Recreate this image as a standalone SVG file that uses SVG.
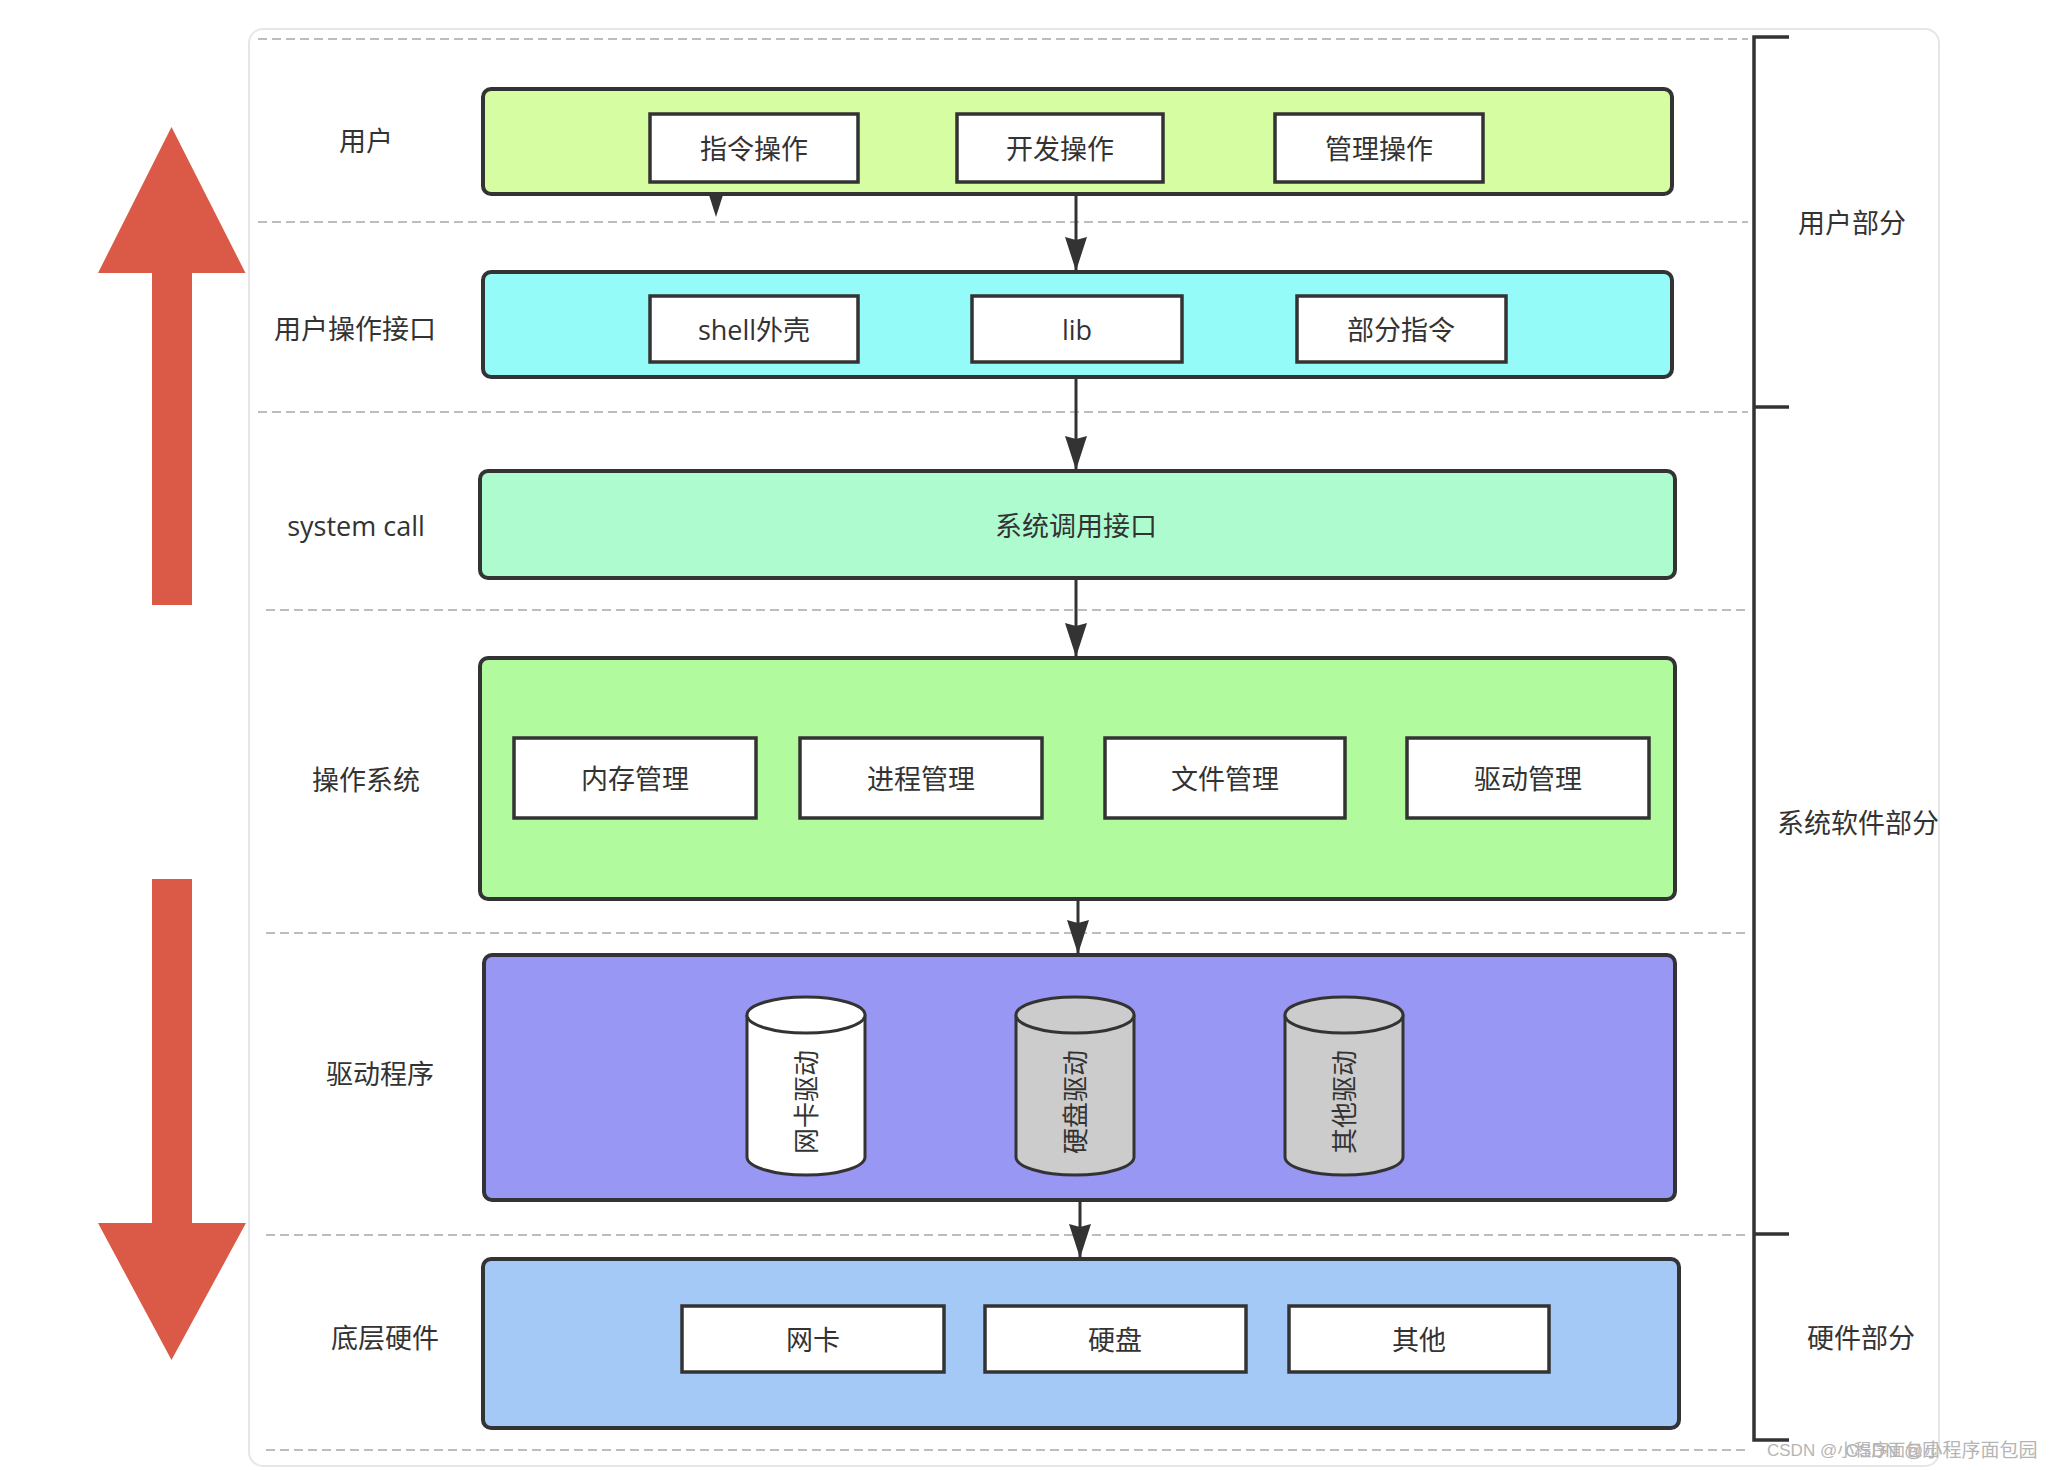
<svg xmlns="http://www.w3.org/2000/svg" width="2052" height="1470" viewBox="0 0 2052 1470">
<style>
.lbl{font-family:"Open Sans","Noto Sans CJK SC",sans-serif;font-size:27px;fill:#333;text-anchor:middle;dominant-baseline:central}
.layer{stroke:#333;stroke-width:4}
.inner{fill:#fff;stroke:#333;stroke-width:3.5}
.dash{stroke:#bdbdbd;stroke-width:2;stroke-dasharray:9 5;fill:none}
.conn{stroke:#333;stroke-width:3;fill:none}
.cyl{stroke:#333;stroke-width:3}
</style>
<defs>
<marker id="ah" viewBox="0 0 34 22" refX="34" refY="11" markerWidth="34" markerHeight="22" markerUnits="userSpaceOnUse" orient="auto"><path d="M0,0 L34,11 L0,22 L3,11 Z" fill="#333"/></marker>
</defs>
<rect width="2052" height="1470" fill="#fff"/>
<rect x="249" y="29" width="1690" height="1437" rx="14" fill="#fff" stroke="#e6e6e6" stroke-width="2"/>
<g id="dashes">
<line class="dash" x1="258" y1="39" x2="1748" y2="39"/>
<line class="dash" x1="258" y1="222" x2="1748" y2="222"/>
<line class="dash" x1="258" y1="412" x2="1748" y2="412"/>
<line class="dash" x1="266" y1="610" x2="1748" y2="610"/>
<line class="dash" x1="266" y1="933" x2="1748" y2="933"/>
<line class="dash" x1="266" y1="1235" x2="1748" y2="1235"/>
<line class="dash" x1="266" y1="1450" x2="1748" y2="1450"/>
</g>
<g id="red-arrows" fill="#da5a47">
<polygon points="171.5,127 245.5,273 192,273 192,605 152,605 152,273 98,273"/>
<polygon points="152,879 192,879 192,1223 246,1223 171.5,1360 98,1223 152,1223"/>
</g>
<g id="bracket" stroke="#333" stroke-width="3.5" fill="none">
<path d="M1789,37 H1754 V1440 H1789"/>
<line x1="1754" y1="407" x2="1789" y2="407"/>
<line x1="1754" y1="1234" x2="1789" y2="1234"/>
</g>
<g id="side-labels">
<text class="lbl" x="1852" y="222">用户部分</text>
<text class="lbl" x="1858" y="822">系统软件部分</text>
<text class="lbl" x="1861" y="1337">硬件部分</text>
<text class="lbl" x="366" y="140">用户</text>
<text class="lbl" x="355" y="328">用户操作接口</text>
<text class="lbl" x="356" y="525">system call</text>
<text class="lbl" x="366" y="779">操作系统</text>
<text class="lbl" x="380" y="1073">驱动程序</text>
<text class="lbl" x="385" y="1337">底层硬件</text>
</g>
<g id="layer-user">
<rect class="layer" x="483" y="89" width="1189" height="105" rx="8" fill="#d6fda1" stroke="#111"/>
<rect class="inner" x="650" y="114" width="208" height="68"/>
<text class="lbl" x="754" y="148">指令操作</text>
<rect class="inner" x="957" y="114" width="206" height="68"/>
<text class="lbl" x="1060" y="148">开发操作</text>
<rect class="inner" x="1275" y="114" width="208" height="68"/>
<text class="lbl" x="1379" y="148">管理操作</text>
</g>
<g id="layer-ui">
<rect class="layer" x="483" y="272" width="1189" height="105" rx="8" fill="#94fbf8"/>
<rect class="inner" x="650" y="296" width="208" height="66"/>
<text class="lbl" x="754" y="329">shell外壳</text>
<rect class="inner" x="972" y="296" width="210" height="66"/>
<text class="lbl" x="1077" y="329">lib</text>
<rect class="inner" x="1297" y="296" width="209" height="66"/>
<text class="lbl" x="1401" y="329">部分指令</text>
</g>
<g id="layer-syscall">
<rect class="layer" x="480" y="471" width="1195" height="107" rx="8" fill="#affbd0"/>
<text class="lbl" x="1076" y="525">系统调用接口</text>
</g>
<g id="layer-os">
<rect class="layer" x="480" y="658" width="1195" height="241" rx="8" fill="#b1fa9e"/>
<rect class="inner" x="514" y="738" width="242" height="80"/>
<text class="lbl" x="635" y="778">内存管理</text>
<rect class="inner" x="800" y="738" width="242" height="80"/>
<text class="lbl" x="921" y="778">进程管理</text>
<rect class="inner" x="1105" y="738" width="240" height="80"/>
<text class="lbl" x="1225" y="778">文件管理</text>
<rect class="inner" x="1407" y="738" width="242" height="80"/>
<text class="lbl" x="1528" y="778">驱动管理</text>
</g>
<g id="layer-drivers">
<rect class="layer" x="484" y="955" width="1191" height="245" rx="8" fill="#9898f4"/>
<g id="cyl-nic">
<path class="cyl" d="M747,1015 V1157 A59,18 0 0 0 865,1157 V1015" fill="#fff"/>
<ellipse class="cyl" cx="806" cy="1015" rx="59" ry="18" fill="#fff"/>
<text class="lbl" transform="translate(806,1102) rotate(-90)" style="font-size:26px">网卡驱动</text>
</g>
<g id="cyl-disk">
<path class="cyl" d="M1016,1015 V1157 A59,18 0 0 0 1134,1157 V1015" fill="#cccccc"/>
<ellipse class="cyl" cx="1075" cy="1015" rx="59" ry="18" fill="#cccccc"/>
<text class="lbl" transform="translate(1075,1102) rotate(-90)" style="font-size:26px">硬盘驱动</text>
</g>
<g id="cyl-other">
<path class="cyl" d="M1285,1015 V1157 A59,18 0 0 0 1403,1157 V1015" fill="#cccccc"/>
<ellipse class="cyl" cx="1344" cy="1015" rx="59" ry="18" fill="#cccccc"/>
<text class="lbl" transform="translate(1344,1102) rotate(-90)" style="font-size:26px">其他驱动</text>
</g>
</g>
<g id="layer-hw">
<rect class="layer" x="483" y="1259" width="1196" height="169" rx="8" fill="#a4c9f6"/>
<rect class="inner" x="682" y="1306" width="262" height="66"/>
<text class="lbl" x="813" y="1339">网卡</text>
<rect class="inner" x="985" y="1306" width="261" height="66"/>
<text class="lbl" x="1115" y="1339">硬盘</text>
<rect class="inner" x="1289" y="1306" width="260" height="66"/>
<text class="lbl" x="1419" y="1339">其他</text>
</g>
<g id="connectors">
<polygon points="709,195 723,195 716,217" fill="#333"/>
<line class="conn" x1="1076" y1="194" x2="1076" y2="271" marker-end="url(#ah)"/>
<line class="conn" x1="1076" y1="377" x2="1076" y2="470" marker-end="url(#ah)"/>
<line class="conn" x1="1076" y1="578" x2="1076" y2="657" marker-end="url(#ah)"/>
<line class="conn" x1="1078" y1="899" x2="1078" y2="954" marker-end="url(#ah)"/>
<line class="conn" x1="1080" y1="1200" x2="1080" y2="1258" marker-end="url(#ah)"/>
</g>
<g id="watermark" font-family="'Liberation Sans','Noto Sans CJK SC',sans-serif" fill="#b5b5b5">
<text x="1767" y="1456" font-size="17">CSDN @小程序面包园</text>
<text x="1845" y="1457" font-size="19">CSDN @小程序面包园</text>
</g>
</svg>
